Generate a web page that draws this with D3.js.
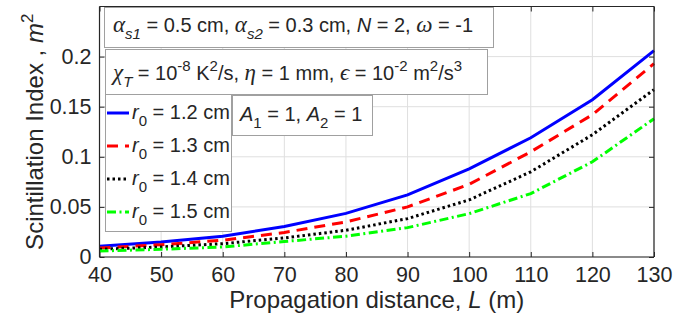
<!DOCTYPE html>
<html>
<head>
<meta charset="utf-8">
<script src="https://cdn.jsdelivr.net/npm/d3@7"></script>
<style>
  body { margin: 0; background: #fff; }
  svg { display: block; font-family: "Liberation Sans", Arial, sans-serif; }
</style>
</head>
<body>
<svg id="chart"></svg>
<script>
const width = 688, height = 327;

// data
const distance = [40, 50, 60, 70, 80, 90, 100, 110, 120, 130];
const r012 = [0.0107, 0.015, 0.0207, 0.0305, 0.0435, 0.062, 0.088, 0.119, 0.157, 0.206];
const r013 = [0.009, 0.0123, 0.0167, 0.0245, 0.035, 0.05, 0.0725, 0.105, 0.142, 0.193];
const r014 = [0.0077, 0.010, 0.0133, 0.019, 0.0267, 0.0383, 0.057, 0.085, 0.122, 0.167];
const r015 = [0.006, 0.0077, 0.010, 0.0155, 0.0207, 0.0293, 0.0433, 0.0633, 0.095, 0.138];
const seriesNames = ["1.2", "1.3", "1.4", "1.5"];
const xTicks = [40, 50, 60, 70, 80, 90, 100, 110, 120, 130];
const yTicks = [0, 0.05, 0.1, 0.15, 0.2];

const series = [
  {name: seriesNames[0], values: r012, color: "#0000ff", dash: null},
  {name: seriesNames[1], values: r013, color: "#ff0000", dash: "11,7"},
  {name: seriesNames[2], values: r014, color: "#000000", dash: "2.5,3"},
  {name: seriesNames[3], values: r015, color: "#00ff00", dash: "9,3.5,2,3.5"}
];

const margin = {left: 99.5, right: 34, top: 6.5, bottom: 70};
const x0 = margin.left, x1 = width - margin.right;
const y0 = height - margin.bottom, y1 = margin.top;

const svg = d3.select("#chart").attr("width", width).attr("height", height);

const x = d3.scaleLinear().domain([40, 130]).range([x0, x1]);
const y = d3.scaleLinear().domain([0, 0.25]).range([y0, y1]);

const ink = "#262626";

// grid
svg.append("g")
    .selectAll("line.vg")
    .data(xTicks)
    .enter().append("line")
    .attr("x1", d => x(d)).attr("x2", d => x(d))
    .attr("y1", y0).attr("y2", y1)
    .attr("stroke", "#dfdfdf");
svg.append("g")
    .selectAll("line.hg")
    .data(yTicks)
    .enter().append("line")
    .attr("x1", x0).attr("x2", x1)
    .attr("y1", d => y(d)).attr("y2", d => y(d))
    .attr("stroke", "#dfdfdf");

// lines
const line = d3.line()
    .x((d, i) => x(distance[i]))
    .y(d => y(d));

svg.append("g")
    .selectAll("path")
    .data(series)
    .enter().append("path")
    .attr("d", d => line(d.values))
    .attr("fill", "none")
    .attr("stroke", d => d.color)
    .attr("stroke-width", 3)
    .attr("stroke-dasharray", d => d.dash);

// axes (ticks inward, box on)
const tickLen = 5;
const axB = svg.append("g").attr("transform", `translate(0,${y0})`)
    .call(d3.axisBottom(x).tickValues(xTicks).tickSize(-tickLen).tickPadding(10).tickFormat(d3.format("d")));
const axT = svg.append("g").attr("transform", `translate(0,${y1})`)
    .call(d3.axisTop(x).tickValues(xTicks).tickSize(-tickLen).tickFormat(""));
const axL = svg.append("g").attr("transform", `translate(${x0},0)`)
    .call(d3.axisLeft(y).tickValues(yTicks).tickSize(-tickLen).tickPadding(8).tickFormat(d => d === 0 ? "0" : String(d)));
const axR = svg.append("g").attr("transform", `translate(${x1},0)`)
    .call(d3.axisRight(y).tickValues(yTicks).tickSize(-tickLen).tickFormat(""));

[axB, axT, axL, axR].forEach(g => {
  g.selectAll(".domain").attr("stroke", ink).attr("stroke-width", 1.2);
  g.selectAll(".tick line").attr("stroke", ink).attr("stroke-width", 1);
  g.selectAll("text").attr("fill", ink).attr("font-size", 21.5)
      .attr("font-family", "Liberation Sans, Arial, sans-serif");
});
axB.selectAll(".domain").attr("d", `M${x0},0H${x1}`);
axT.selectAll(".domain").attr("d", `M${x0},0H${x1}`);
axL.selectAll(".domain").attr("d", `M0,${y0}V${y1}`);
axR.selectAll(".domain").attr("d", `M0,${y0}V${y1}`);

// axis labels
const xl = svg.append("text")
    .attr("x", (x0 + x1) / 2).attr("y", 308)
    .attr("text-anchor", "middle").attr("font-size", 24).attr("fill", ink);
xl.append("tspan").text("Propagation distance, ");
xl.append("tspan").attr("font-style", "italic").text("L");
xl.append("tspan").text(" (m)");

const yl = svg.append("text")
    .attr("transform", `translate(43,${(y0 + y1) / 2}) rotate(-90)`)
    .attr("text-anchor", "middle").attr("font-size", 24).attr("fill", ink);
yl.append("tspan").text("Scintillation Index , ");
yl.append("tspan").attr("font-style", "italic").text("m");
yl.append("tspan").attr("font-size", 17).attr("dy", -10).text("2");

// annotation boxes
const greek = "Liberation Serif, DejaVu Serif, serif";
function box(bx, by, bw, bh) {
  svg.append("rect")
      .attr("x", bx + 0.5).attr("y", by + 0.5)
      .attr("width", bw).attr("height", bh)
      .attr("fill", "#fff").attr("stroke", "#a0a0a0").attr("stroke-width", 1);
}
function parts(t, list) {
  list.forEach(p => {
    const s = t.append("tspan").text(p.t);
    if (p.i) s.attr("font-style", "italic");
    if (p.g) s.attr("font-family", greek).attr("font-size", 23);
    if (p.sub) s.attr("font-size", 15).attr("dy", 7);
    if (p.sup) s.attr("font-size", 15).attr("dy", -9);
    if (p.dy) s.attr("dy", p.dy);
  });
}

box(104, 7, 389, 40);
parts(svg.append("text").attr("x", 113).attr("y", 32).attr("font-size", 20).attr("fill", ink), [
  {t: "\u03b1", g: 1, i: 1}, {t: "s1", i: 1, sub: 1}, {t: " = 0.5 cm, ", dy: -7},
  {t: "\u03b1", g: 1, i: 1}, {t: "s2", i: 1, sub: 1}, {t: " = 0.3 cm, ", dy: -7},
  {t: "N", i: 1}, {t: " = 2, "}, {t: "\u03c9", g: 1, i: 1}, {t: " = -1"}
]);

box(105, 49, 382, 45);
parts(svg.append("text").attr("x", 113).attr("y", 80).attr("font-size", 20).attr("fill", ink), [
  {t: "\u03c7", g: 1, i: 1}, {t: "T", i: 1, sub: 1}, {t: " = 10", dy: -7},
  {t: "-8", sup: 1}, {t: " K", dy: 9}, {t: "2", sup: 1}, {t: "/s, ", dy: 9},
  {t: "\u03b7", g: 1, i: 1}, {t: " = 1 mm, "}, {t: "\u03f5", g: 1, i: 1}, {t: " = 10"},
  {t: "-2", sup: 1}, {t: " m", dy: 9}, {t: "2", sup: 1}, {t: "/s", dy: 9}, {t: "3", sup: 1}
]);

box(232, 95, 140, 40);
parts(svg.append("text").attr("x", 240).attr("y", 121).attr("font-size", 20).attr("fill", ink), [
  {t: "A", i: 1}, {t: "1", sub: 1}, {t: " = 1, ", dy: -7},
  {t: "A", i: 1}, {t: "2", sub: 1}, {t: " = 1", dy: -7}
]);

// legend
box(105, 94, 126, 137);
const legY = [113, 146, 179, 212];
const leg = svg.append("g").selectAll("g")
    .data(series)
    .enter().append("g")
    .attr("transform", (d, i) => `translate(0,${legY[i]})`);
leg.append("line")
    .attr("x1", 107).attr("x2", 129)
    .attr("stroke", d => d.color).attr("stroke-width", 3)
    .attr("stroke-dasharray", d => d.dash);
leg.each(function(d) {
  const t = d3.select(this).append("text")
      .attr("x", 132).attr("y", 6).attr("font-size", 20).attr("fill", ink);
  parts(t, [{t: "r", i: 1}, {t: "0", sub: 1}, {t: " = " + d.name + " cm", dy: -7}]);
});
</script>
</body>
</html>
